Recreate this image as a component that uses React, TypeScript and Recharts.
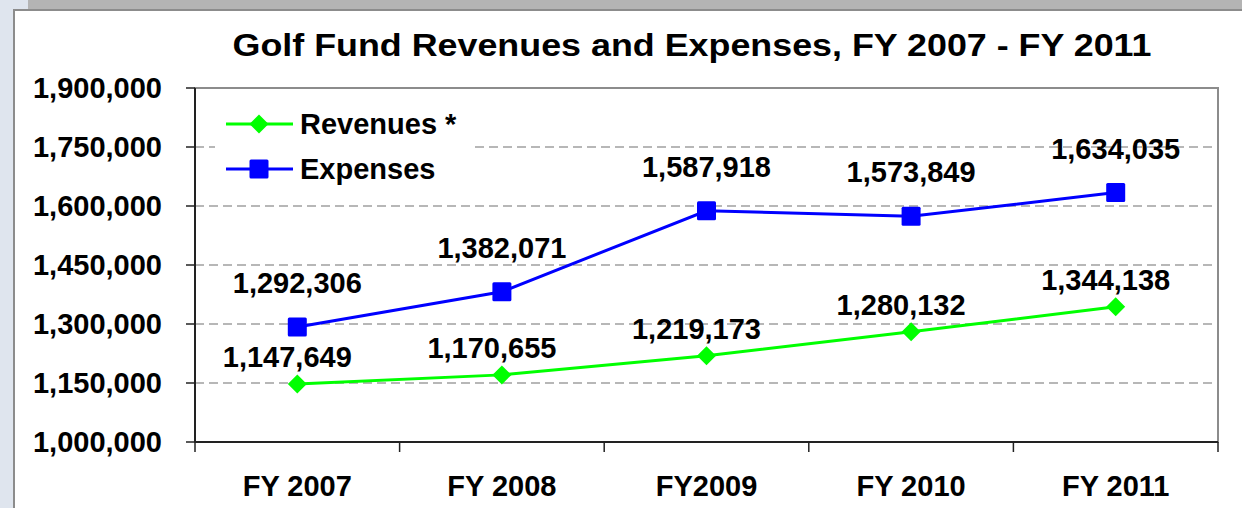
import React from 'react';
import {
  LineChart, Line, XAxis, YAxis, CartesianGrid, LabelList, ReferenceArea
} from 'recharts';

const years = ['FY 2007', 'FY 2008', 'FY2009', 'FY 2010', 'FY 2011'];
const revenues = [1147649, 1170655, 1219173, 1280132, 1344138];
const expenses = [1292306, 1382071, 1587918, 1573849, 1634035];
const yTicks = [1000000, 1150000, 1300000, 1450000, 1600000, 1750000, 1900000];

const data = years.map((year, i) => ({ year, revenues: revenues[i], expenses: expenses[i] }));

const FONT = '"Liberation Sans", Arial, sans-serif';
const GREEN = '#00FF00';
const BLUE = '#0000FF';
const X_TICK_GAP = 33;
const fmt = (v: number) => v.toLocaleString('en-US');

const Diamond = (props: any) => {
  const { cx, cy } = props;
  if (cx == null || cy == null) return null;
  const r = 9.5;
  return <path d={`M${cx},${cy - r}L${cx + r},${cy}L${cx},${cy + r}L${cx - r},${cy}Z`} fill={GREEN} />;
};

const Square = (props: any) => {
  const { cx, cy } = props;
  if (cx == null || cy == null) return null;
  return <rect x={cx - 9.5} y={cy - 9.5} width={19} height={19} rx={1.5} fill={BLUE} />;
};

const makeLabel = (dx: number, dy: number) => (props: any) => {
  const { x, y, value } = props;
  return (
    <text x={x + dx} y={y + dy} textAnchor="middle" dominantBaseline="central"
      fontFamily={FONT} fontWeight="bold" fontSize={29} fill="#000">
      {fmt(value)}
    </text>
  );
};

// category label plus tick marks on the band edges (Excel style)
const XTick = (props: any) => {
  const { x, y, payload, index, visibleTicksCount } = props;
  const half = payload?.offset ?? 0;
  const axisY = y - X_TICK_GAP;
  const isLast = index === visibleTicksCount - 1;
  return (
    <g>
      <line x1={x - half} x2={x - half} y1={axisY} y2={axisY + 10} stroke="#222" strokeWidth={1.5} />
      {isLast && <line x1={x + half} x2={x + half} y1={axisY} y2={axisY + 10} stroke="#222" strokeWidth={1.5} />}
      <text x={x} y={y} dy="0.71em" textAnchor="middle" fontFamily={FONT} fontWeight="bold" fontSize={29} fill="#000">
        {payload.value}
      </text>
    </g>
  );
};

// legend drawn as an overlay so it doesn't eat plot space
const LegendBox = () => (
  <svg width={255} height={90} style={{ display: 'block' }}>
    <rect x={0} y={0} width={255} height={90} fill="#fff" />
    <line x1={11} x2={78} y1={24} y2={24} stroke={GREEN} strokeWidth={3} />
    <Diamond cx={44} cy={24} />
    <text x={85} y={24} dominantBaseline="central" fontFamily={FONT} fontWeight="bold" fontSize={29}>Revenues *</text>
    <line x1={11} x2={78} y1={69} y2={69} stroke={BLUE} strokeWidth={3} />
    <Square cx={44} cy={69} />
    <text x={85} y={69} dominantBaseline="central" fontFamily={FONT} fontWeight="bold" fontSize={29}>Expenses</text>
  </svg>
);

export default function App() {
  return (
    <div style={{ position: 'absolute', left: 0, top: 0, width: 1242, height: 508, overflow: 'hidden', background: '#b4b4b4' }}>
      <div style={{ position: 'absolute', left: 0, top: 0, width: 28, height: 9, background: '#dfe5ee' }} />
      <div style={{ position: 'absolute', left: 0, top: 9, width: 13, height: 499, background: '#dfe5ee' }} />
      <div style={{ position: 'absolute', left: 13, top: 9, width: 1240, height: 510, background: '#fff', borderLeft: '2px solid #8c8c8c', borderTop: '2px solid #8c8c8c' }} />
      <div style={{ position: 'absolute', left: 142, top: 29, width: 1100, textAlign: 'center', fontFamily: FONT, fontWeight: 'bold', fontSize: 32, lineHeight: '32px', color: '#000', transform: 'scaleX(1.12)', transformOrigin: '550px 0' }}>
        Golf Fund Revenues and Expenses, FY 2007 - FY 2011
      </div>
      <div style={{ position: 'absolute', left: 0, top: 0 }}>
        <LineChart width={1242} height={508} data={data} margin={{ top: 88, right: 24, left: 0, bottom: 0 }}>
          <CartesianGrid yAxisId="left" vertical={false} stroke="#a0a0a0" strokeDasharray="9 5" strokeWidth={1.5} />
          <ReferenceArea yAxisId="left" y1={1000000} y2={1900000} fill="none" stroke="#8c8c8c" strokeWidth={2} ifOverflow="visible" />
          <XAxis
            dataKey="year"
            scale="band"
            height={66}
            tickLine={false}
            tickSize={0}
            tickMargin={X_TICK_GAP}
            axisLine={{ stroke: '#222', strokeWidth: 2 }}
            tick={<XTick />}
            interval={0}
          />
          <YAxis
            yAxisId="left"
            domain={[1000000, 1900000]}
            ticks={yTicks}
            width={195}
            tickFormatter={fmt}
            tickSize={9}
            tickMargin={24}
            axisLine={{ stroke: '#222', strokeWidth: 2 }}
            tickLine={{ stroke: '#222', strokeWidth: 1.5 }}
            tick={{ fill: '#000', fontSize: 29, fontWeight: 'bold', fontFamily: FONT }}
            interval={0}
          />
          <Line yAxisId="left" dataKey="revenues" stroke={GREEN} strokeWidth={3} dot={<Diamond />} activeDot={false} isAnimationActive={false}>
            <LabelList dataKey="revenues" content={makeLabel(-10, -27)} />
          </Line>
          <Line yAxisId="left" dataKey="expenses" stroke={BLUE} strokeWidth={3} dot={<Square />} activeDot={false} isAnimationActive={false}>
            <LabelList dataKey="expenses" content={makeLabel(0, -44)} />
          </Line>
        </LineChart>
      </div>
      <div style={{ position: 'absolute', left: 215, top: 100 }}>
        <LegendBox />
      </div>
    </div>
  );
}
